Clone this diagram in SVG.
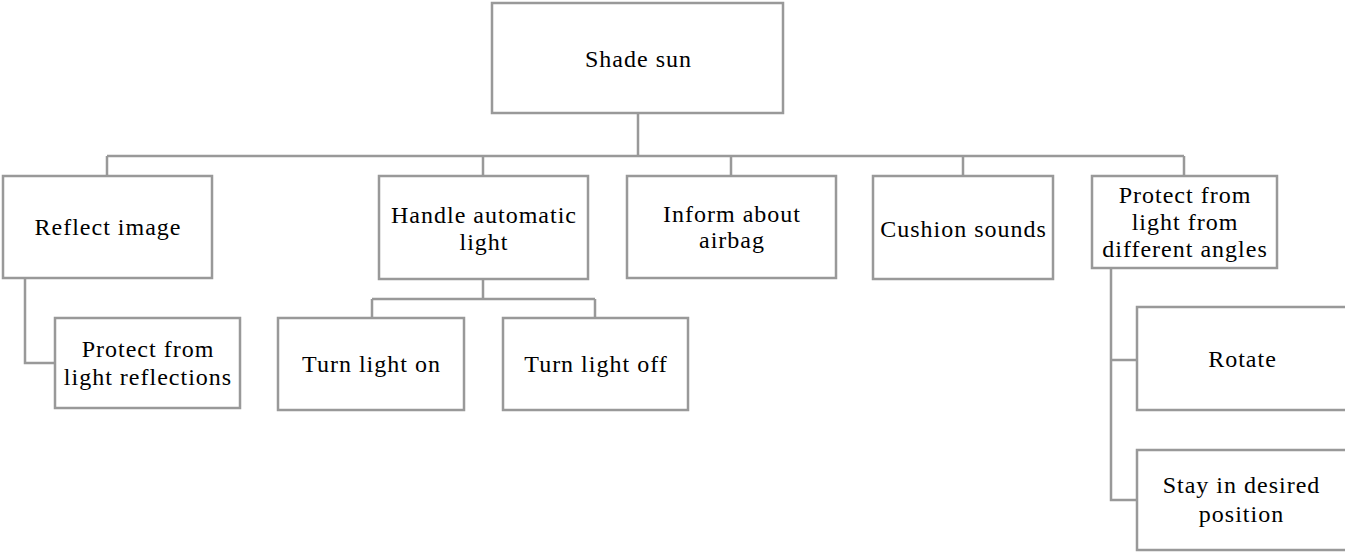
<svg xmlns="http://www.w3.org/2000/svg" width="1345" height="553" viewBox="0 0 1345 553">
<style>
.box{fill:#fff;stroke:#999;stroke-width:2.5}
.ln{fill:none;stroke:#999;stroke-width:2.5}
text{font-family:"Liberation Serif","Times New Roman",serif;font-size:24px;letter-spacing:1px;fill:#000;text-anchor:middle}
</style>
<rect width="1345" height="553" fill="#fff"/>
<g id="connectors">
<path class="ln" d="M638 113V156M107 156H1184M107 156V176M483 156V176M731 156V176M963 156V176M1184 156V176"/>
<path class="ln" d="M25 278V363H55"/>
<path class="ln" d="M483 279V299M372 299H595M372 299V318M595 299V318"/>
<path class="ln" d="M1111 268V500H1137M1111 360H1137"/>
</g>
<g id="n-root"><rect class="box" x="492" y="3" width="291" height="110"/><text x="638.5" y="67">Shade sun</text></g>
<g id="n-reflect"><rect class="box" x="3" y="176" width="209" height="102"/><text x="108" y="235">Reflect image</text></g>
<g id="n-protect-refl"><rect class="box" x="55" y="318" width="185" height="90"/><text x="148" y="357">Protect from</text><text x="148" y="385">light reflections</text></g>
<g id="n-handle"><rect class="box" x="379" y="176" width="209" height="103"/><text x="484" y="223">Handle automatic</text><text x="484" y="250">light</text></g>
<g id="n-on"><rect class="box" x="278" y="318" width="186" height="92"/><text x="371.5" y="372">Turn light on</text></g>
<g id="n-off"><rect class="box" x="503" y="318" width="185" height="92"/><text x="596" y="372">Turn light off</text></g>
<g id="n-airbag"><rect class="box" x="627" y="176" width="209" height="102"/><text x="732" y="222">Inform about</text><text x="732" y="248">airbag</text></g>
<g id="n-cushion"><rect class="box" x="873" y="176" width="180" height="103"/><text x="963.5" y="237">Cushion sounds</text></g>
<g id="n-angles"><rect class="box" x="1092" y="176" width="185" height="92"/><text x="1185" y="203">Protect from</text><text x="1185" y="230">light from</text><text x="1185" y="257">different angles</text></g>
<g id="n-rotate"><rect class="box" x="1137" y="307" width="210" height="103"/><text x="1242.5" y="367">Rotate</text></g>
<g id="n-stay"><rect class="box" x="1137" y="450" width="210" height="100"/><text x="1241.5" y="493">Stay in desired</text><text x="1241.5" y="522">position</text></g>
</svg>
